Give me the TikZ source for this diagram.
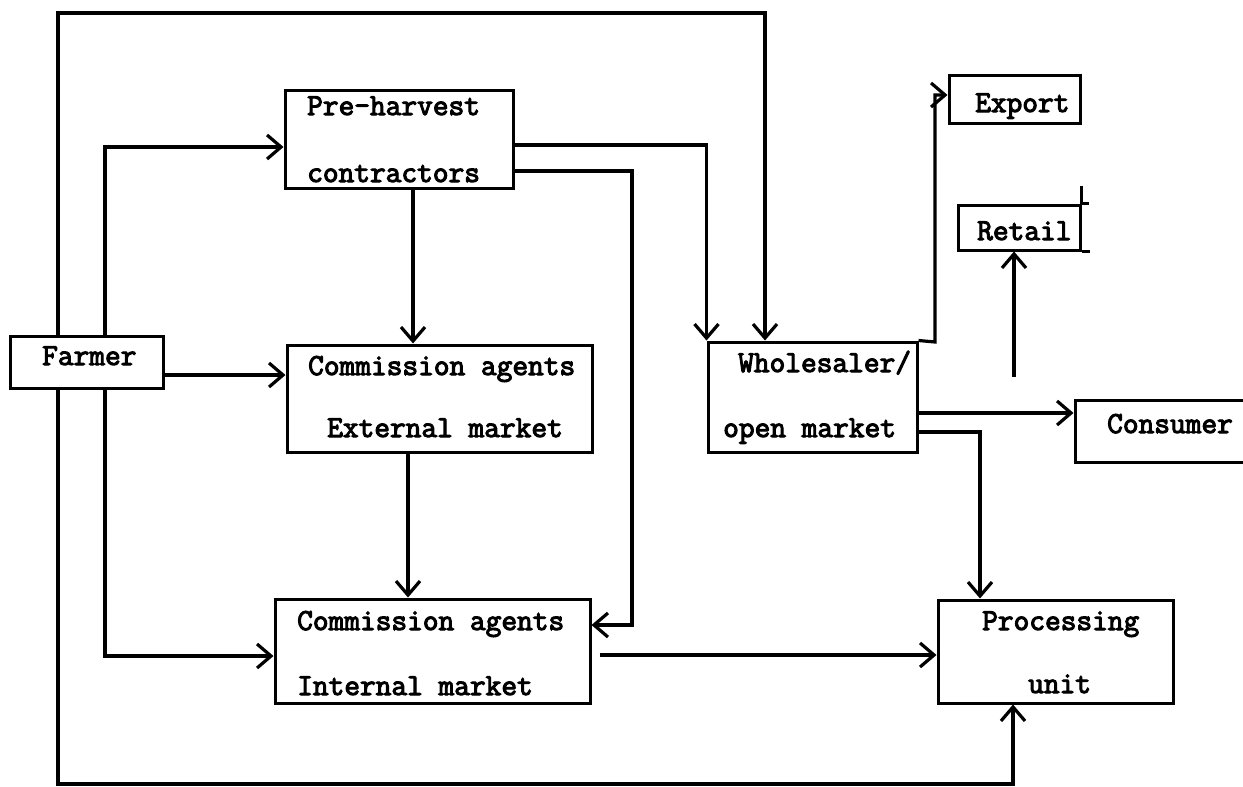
\documentclass[tikz,border=0pt]{standalone}
\usepackage{fontspec}
\newfontfamily\tw[FakeBold=3.5]{Latin Modern Mono}
\usetikzlibrary{arrows.meta}
\begin{document}
\begin{tikzpicture}[x=1pt,y=-1pt,
  box/.style={draw, line width=3pt, inner sep=0pt, rectangle},
  lbl/.style={anchor=base west, inner sep=0pt, font=\tw\fontsize{30.5}{30.5}\selectfont},
  arr/.style={line width=3.2pt, -{Straight Barb[length=14pt,width=24pt]}},
  seg/.style={line width=3pt}]
\fill[white] (0,0) rectangle (1243,787);
\useasboundingbox (0,0) rectangle (1243,787);

% boxes
\node[box, minimum width=153pt, minimum height=52pt]  (farmer) at (86.5,362) {};
\node[box, minimum width=228pt, minimum height=98pt]  (pre)    at (399,139) {};
\node[box, minimum width=305pt, minimum height=107pt] (ext)    at (439.5,398.5) {};
\node[box, minimum width=315pt, minimum height=104pt] (int)    at (432.5,651) {};
\node[box, minimum width=209pt, minimum height=110pt] (whole)  at (812.5,397) {};
\node[box, minimum width=131pt, minimum height=48pt]  (export) at (1014.5,99) {};
\node[box, minimum width=122pt, minimum height=45pt]  (retail) at (1019,227.5) {};
\node[box, minimum width=185pt, minimum height=62pt]  (cons)   at (1167.5,431) {};
\node[box, minimum width=235pt, minimum height=103pt] (proc)   at (1055.5,651.5) {};

% small sketch extensions of the Retail box
\draw[seg] (retail.north east) -- ++(7,0);
\draw[seg] (retail.north east) -- ++(0,-18);
\draw[seg] (retail.south east) -- ++(8,0);

% labels
\node[lbl] (tFarmer) at (42,365)  {Farmer};
\node[lbl] (tPre1)   at (307,115) {Pre-harvest};
\node[lbl] (tPre2)   at (307,182) {contractors};
\node[lbl] (tExt1)   at (308,375) {Commission agents};
\node[lbl] (tExt2)   at (327,437) {External market};
\node[lbl] (tInt1)   at (297,630) {Commission agents};
\node[lbl] (tInt2)   at (297,695) {Internal market};
\node[lbl] (tWh1)    at (738,372) {Wholesaler/};
\node[lbl] (tWh2)    at (723,437) {open market};
\node[lbl] (tExp)    at (975,112) {Export};
\node[lbl] (tRet)    at (977,240) {Retail};
\node[lbl] (tCons)   at (1107,433) {Consumer};
\node[lbl] (tProc1)  at (982,630) {Processing};
\node[lbl] (tProc2)  at (1028,693) {unit};

% bend coordinates
\coordinate (k1) at (58,13);
\coordinate (k2) at (765,13);
\coordinate (k3) at (105,147);
\coordinate (k4) at (0,375);
\coordinate (k5) at (0,656);
\coordinate (k6) at (1013,784);
\coordinate (k7) at (413,0);
\coordinate (k8) at (408,0);
\coordinate (k9) at (708,145);
\coordinate (k10) at (0,171);
\coordinate (k11) at (632,625);
\coordinate (k12) at (0,655);
\coordinate (k13) at (935,342);
\coordinate (k14) at (0,95);
\coordinate (k15) at (0,413);
\coordinate (k16) at (0,432);
\coordinate (k17) at (980,0);
\coordinate (k18) at (1014,377);

% connectors
\draw[arr] (farmer.north -| k1) -- (k1) -- (k2) -- (whole.north -| k2);
\draw[arr] (farmer.north -| k3) |- (pre.west |- k3);
\draw[arr] (farmer.east |- k4) -- (ext.west |- k4);
\draw[arr] (farmer.south -| k3) |- (int.west |- k5);
\draw[arr] (farmer.south -| k1) |- (k6) -- (proc.south -| k6);
\draw[arr] (pre.south -| k7) -- (ext.north -| k7);
\draw[arr] (ext.south -| k8) -- (int.north -| k8);
\draw[arr] (pre.east |- k9) -| (whole.north west);
\draw[arr] (pre.east |- k10) -| (k11) -- (int.east |- k11);
\draw[arr, shorten <=8pt] (int.east |- k12) -- (proc.west |- k12);
\draw[arr] (whole.north east) -- (k13) |- (export.west |- k14);
\draw[arr] (whole.east |- k15) -- (cons.west |- k15);
\draw[arr] (whole.east |- k16) -| (proc.north -| k17);
\draw[arr] (k18) -- (retail.south -| k18);
\end{tikzpicture}
\end{document}
